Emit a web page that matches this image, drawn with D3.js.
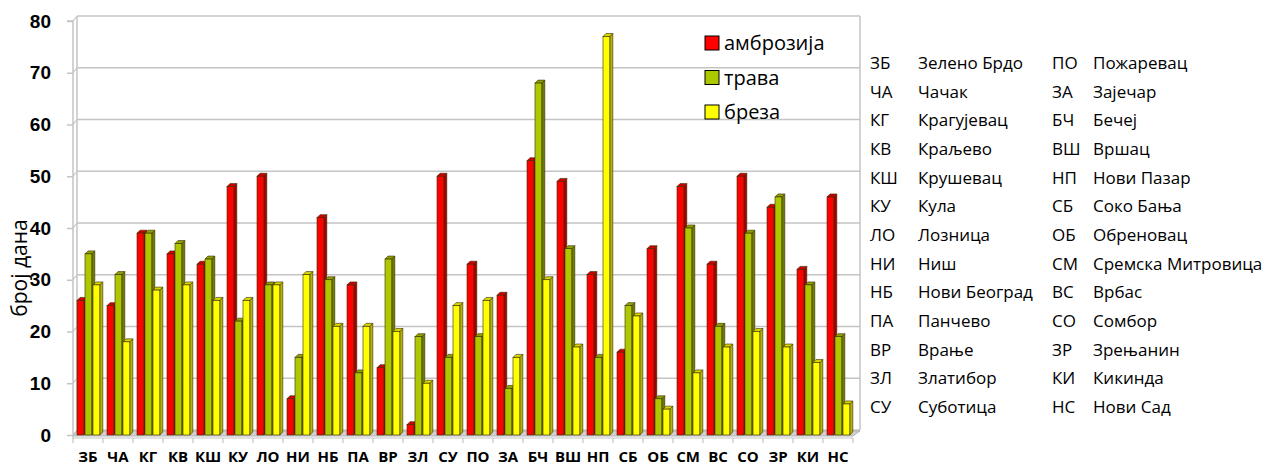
<!DOCTYPE html>
<html><head><meta charset="utf-8">
<script src="https://cdn.jsdelivr.net/npm/d3@7"></script>
<style>body{margin:0;background:#fff}svg{display:block}</style>
</head><body>
<svg id="c" width="1274" height="467"></svg>
<script>
const categories = ["ЗБ","ЧА","КГ","КВ","КШ","КУ","ЛО","НИ","НБ","ПА","ВР","ЗЛ","СУ","ПО","ЗА","БЧ","ВШ","НП","СБ","ОБ","СМ","ВС","СО","ЗР","КИ","НС"];
const seriesNames = ["амброзија","трава","бреза"];
const ambrozija = [26,25,39,35,33,48,50,7,42,29,13,2,50,33,27,53,49,31,16,36,48,33,50,44,32,46];
const trava     = [35,31,39,37,34,22,29,15,30,12,34,19,15,19,9,68,36,15,25,7,40,21,39,46,29,19];
const breza     = [29,18,28,29,26,26,29,31,21,21,20,10,25,26,15,30,17,77,23,5,12,17,20,17,14,6];
const yTicks = [0,10,20,30,40,50,60,70,80];
const abbrCol1 = ["ЗБ","ЧА","КГ","КВ","КШ","КУ","ЛО","НИ","НБ","ПА","ВР","ЗЛ","СУ"];
const nameCol1 = ["Зелено Брдо","Чачак","Крагујевац","Краљево","Крушевац","Кула","Лозница","Ниш","Нови Београд","Панчево","Врање","Златибор","Суботица"];
const abbrCol2 = ["ПО","ЗА","БЧ","ВШ","НП","СБ","ОБ","СМ","ВС","СО","ЗР","КИ","НС"];
const nameCol2 = ["Пожаревац","Зајечар","Бечеј","Вршац","Нови Пазар","Соко Бања","Обреновац","Сремска Митровица","Врбас","Сомбор","Зрењанин","Кикинда","Нови Сад"];

const seriesData = [ambrozija, trava, breza];
const colors = [
  {front:"#ff0000", side:"#a80000", top:"#d00000"},
  {front:"#aec800", side:"#6e7e00", top:"#8fa300"},
  {front:"#ffff00", side:"#b3b300", top:"#d6d600"}
];

const svg = d3.select("#c");
const X0 = 73, X1 = 853;
const DX = 4, DY = -5;
const BDX = 3, BDY = -3;
const x = d3.scaleBand().domain(categories).range([X0, X1]);
const xs = d3.scaleBand().domain(seriesNames).range([4, 28]);
const y = d3.scaleLinear().domain([0, 80]).range([435, 21]);

const g = svg.append("g");
g.selectAll("line.grid").data(yTicks).join("line")
  .attr("x1", X0 + DX).attr("x2", 860)
  .attr("y1", d => y(d) + DY).attr("y2", d => y(d) + DY)
  .attr("stroke", "#c4c4c4").attr("stroke-width", 1.5);
g.selectAll("line.diag").data(yTicks).join("line")
  .attr("x1", X0).attr("x2", X0 + DX)
  .attr("y1", d => y(d)).attr("y2", d => y(d) + DY)
  .attr("stroke", "#c4c4c4").attr("stroke-width", 1.2);
g.append("line").attr("x1", X0 + DX).attr("x2", X0 + DX).attr("y1", y(80) + DY).attr("y2", y(0) + DY).attr("stroke", "#c4c4c4").attr("stroke-width", 1.5);
g.append("line").attr("x1", 860).attr("x2", 860).attr("y1", y(80) + DY).attr("y2", y(0) + DY).attr("stroke", "#c4c4c4").attr("stroke-width", 1.5);

g.append("path")
  .attr("d", `M${X0},${y(0)+1} L${X1},${y(0)+1} L${X1+DX+3},${y(0)+DY+1} L${X0+DX},${y(0)+DY+1} Z`)
  .attr("fill", "#d0d0d0").attr("stroke", "#a6a6a6").attr("stroke-width", 0.8);

const yAxis = d3.axisLeft(y).tickValues(yTicks).tickSize(6).tickPadding(14);
const ya = svg.append("g").attr("transform", `translate(${X0},0)`).call(yAxis);
ya.select(".domain").attr("stroke", "#c4c4c4").attr("stroke-width", 1.5).attr("d", `M-6,${y(80)}H0V${y(0)+3}`);
ya.selectAll(".tick line").attr("stroke", "#c4c4c4").attr("stroke-width", 1.5);
ya.selectAll(".tick text").attr("font-family", "'Liberation Sans', Arial, sans-serif").attr("font-weight", "bold").attr("font-size", 19).attr("fill", "#000").attr("dx", -2);

const bars = svg.append("g");
seriesData.forEach((vals, si) => {
  const c = colors[si];
  const bw = xs.bandwidth() - 1.2;
  const gs = bars.append("g");
  vals.forEach((v, ci) => {
    const x0 = x(categories[ci]) + xs(seriesNames[si]);
    const yt = y(v), yb = y(0);
    gs.append("path").attr("d", `M${x0+bw},${yb} L${x0+bw+BDX},${yb+BDY} L${x0+bw+BDX},${yt+BDY} L${x0+bw},${yt} Z`)
      .attr("fill", c.side).attr("stroke", "#3a2a00").attr("stroke-width", 0.6);
    gs.append("path").attr("d", `M${x0},${yt} L${x0+BDX},${yt+BDY} L${x0+bw+BDX},${yt+BDY} L${x0+bw},${yt} Z`)
      .attr("fill", c.top).attr("stroke", "#3a2a00").attr("stroke-width", 0.6);
    gs.append("rect").attr("x", x0).attr("y", yt).attr("width", bw).attr("height", yb - yt)
      .attr("fill", c.front).attr("stroke", "#3a2a00").attr("stroke-width", 0.6);
  });
});

const xAxis = d3.axisBottom(x).tickSize(0).tickPadding(0);
const xa = svg.append("g").attr("transform", `translate(0,${y(0)+3})`).call(xAxis);
xa.select(".domain").attr("stroke", "#c4c4c4").attr("stroke-width", 1.2).attr("d", `M${X0},0H${X1}`);
xa.selectAll(".tick text").attr("font-family", "'Open Sans', sans-serif").attr("font-weight", "bold").attr("font-size", 15).attr("fill", "#000").attr("y", 24).attr("dy", 0);
xa.selectAll("line.b").data(d3.range(categories.length + 1)).join("line")
  .attr("x1", i => X0 + i * x.step()).attr("x2", i => X0 + i * x.step())
  .attr("y1", 0).attr("y2", 5).attr("stroke", "#c4c4c4").attr("stroke-width", 1.2);

svg.append("text").attr("transform", "translate(27,268) rotate(-90)")
  .attr("text-anchor", "middle").attr("font-family", "'Open Sans', sans-serif").attr("font-size", 21).text("број дана");

const leg = svg.append("g");
seriesNames.forEach((n, i) => {
  const cy = 43 + i * 34.5;
  leg.append("rect").attr("x", 705).attr("y", cy - 7).attr("width", 14).attr("height", 14)
    .attr("fill", colors[i].front).attr("stroke", "#000").attr("stroke-width", 1);
  leg.append("text").attr("x", 724).attr("y", cy + 7).attr("font-family", "'Open Sans', sans-serif").attr("font-size", 20).text(n);
});

const rp = svg.append("g").attr("font-family", "'Open Sans', sans-serif").attr("font-size", 17).attr("fill", "#000");
const rowY = i => 69 + i * 28.67;
[[abbrCol1, 870], [nameCol1, 918], [abbrCol2, 1052], [nameCol2, 1093]].forEach(([arr, xx]) => {
  rp.selectAll(null).data(arr).join("text").attr("x", xx).attr("y", (d, i) => rowY(i)).text(d => d);
});
</script>
</body></html>
